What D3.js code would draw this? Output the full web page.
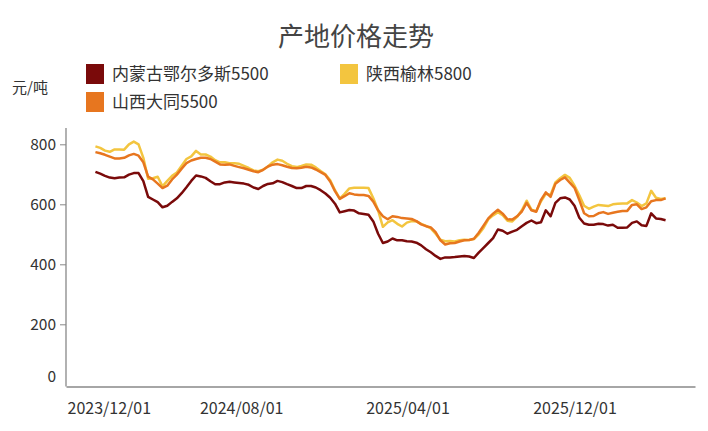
<!DOCTYPE html>
<html><head><meta charset="utf-8">
<script src="https://cdn.jsdelivr.net/npm/d3@7"></script>
<style>
html,body{margin:0;padding:0;background:#fff;}
svg{display:block;font-family:"Noto Sans CJK SC","Noto Sans",sans-serif;}
</style></head>
<body><svg id="chart" width="708" height="431"></svg>
<script>
const title = "产地价格走势";
const unit = "元/吨";
const seriesNames = ["内蒙古鄂尔多斯5500", "陕西榆林5800", "山西大同5500"];
const seriesColors = ["#7a0a0a", "#f3c53f", "#e7761f"];
const startDate = "2024-01-01"; // weekly observations
const xTickLabels = ["2023/12/01", "2024/08/01", "2025/04/01", "2025/12/01"];
const yTicks = [0, 200, 400, 600, 800];

const neimenggu = [708,702,695,689,687,689,690,699,704,704,677,625,616,607,590,595,608,620,637,657,
678,696,693,688,677,667,667,673,675,673,671,669,665,656,651,661,668,670,678,674,
667,661,654,654,661,661,656,647,636,622,602,573,577,581,579,570,568,565,543,502,
471,476,486,480,480,477,476,472,463,450,440,428,418,423,423,424,426,428,426,421,
439,455,471,487,516,512,502,509,515,527,538,546,537,540,580,560,605,620,623,616,
595,555,536,532,532,535,534,529,532,522,522,523,538,543,530,528,570,553,551,547];

const shaanxi = [793,788,779,775,783,783,782,800,809,800,755,685,687,692,660,678,695,706,729,751,
760,778,766,766,759,747,740,740,737,737,735,728,721,713,710,715,726,740,749,745,
735,727,724,728,733,732,723,711,700,680,647,619,635,653,655,655,655,654,620,580,
525,540,547,535,526,539,544,543,535,528,520,502,482,477,478,476,480,482,481,484,
500,521,550,563,574,564,545,543,558,580,612,582,577,610,635,631,673,687,698,688,
662,630,595,585,592,598,596,594,600,602,603,603,614,606,594,603,645,622,618,620];

const shanxi = [774,770,765,759,753,753,755,763,768,762,740,692,683,669,654,662,683,699,719,737,
746,751,755,755,751,742,733,732,733,728,724,720,715,710,707,715,726,732,734,730,
725,721,720,722,725,723,716,707,698,676,644,618,627,637,633,631,631,628,609,580,
560,550,560,558,554,553,551,544,533,527,523,507,480,466,470,471,476,480,481,485,
505,529,553,569,582,569,550,549,560,576,605,580,575,615,640,625,668,681,690,672,
655,614,570,560,561,570,574,568,572,575,578,578,598,600,584,590,610,614,614,620];

const parse = d3.timeParse("%Y-%m-%d");
const parseSlash = d3.timeParse("%Y/%m/%d");
const dates = d3.range(neimenggu.length).map(i => d3.timeDay.offset(parse(startDate), 7 * i));
const seriesValues = [neimenggu, shaanxi, shanxi];

const svg = d3.select("#chart");
const x = d3.scaleTime().domain([parse("2023-11-19"), parse("2026-05-26")]).range([66, 695]);
const y = d3.scaleLinear().domain([0, 800]).range([384.3, 144.3]);

// title
svg.append("text").attr("x", 356).attr("y", 46).attr("text-anchor", "middle")
  .attr("font-size", 26).attr("fill", "#444").text(title);

// unit
svg.append("text").attr("x", 12).attr("y", 93).attr("font-size", 15).attr("fill", "#333").text(unit);

// legend
const legendPos = [[86, 64], [340, 64], [86, 92]];
seriesNames.forEach((n, i) => {
  const g = svg.append("g").attr("transform", `translate(${legendPos[i][0]},${legendPos[i][1]})`);
  g.append("rect").attr("width", 18).attr("height", 20).attr("fill", seriesColors[i]);
  g.append("text").attr("x", 26).attr("y", 16).attr("font-size", 17).attr("fill", "#333").text(n);
});

// y axis
const yAxis = svg.append("g").attr("transform", "translate(66,0)")
  .call(d3.axisLeft(y).tickValues(yTicks).tickSize(6).tickPadding(4));
yAxis.select(".domain").remove();
yAxis.selectAll(".tick line").attr("stroke", "#888");
yAxis.selectAll(".tick text").attr("font-size", 15.5).attr("fill", "#333")
  .attr("font-family", "'Noto Sans CJK SC','Noto Sans',sans-serif");
yAxis.selectAll(".tick").filter(d => d === 0).select("line").remove();
yAxis.selectAll(".tick").filter(d => d === 0).select("text").attr("dy", "-0.15em");
svg.append("line").attr("x1", 66).attr("x2", 66).attr("y1", 128).attr("y2", 386.5)
  .attr("stroke", "#888").attr("stroke-width", 1.3);

// x axis
const xAxis = svg.append("g").attr("transform", "translate(0,386.5)")
  .call(d3.axisBottom(x).tickValues(xTickLabels.map(parseSlash)).tickFormat(d3.timeFormat("%Y/%m/%d"))
  .tickSize(0).tickPadding(16));
xAxis.select(".domain").attr("stroke", "#888").attr("stroke-width", 1.3);
xAxis.selectAll(".tick text").attr("font-size", 16).attr("fill", "#333")
  .attr("font-family", "'Noto Sans CJK SC','Noto Sans',sans-serif");
xAxis.selectAll(".tick").filter((d, i) => i === 0).select("text")
  .attr("text-anchor", "start").attr("x", 67 - x(parseSlash(xTickLabels[0])));

// lines
const line = d3.line().x((d, i) => x(dates[i])).y(d => y(d));
[0, 1, 2].forEach(i => {
  svg.append("path").datum(seriesValues[i]).attr("fill", "none")
    .attr("stroke", seriesColors[i]).attr("stroke-width", 2.5)
    .attr("stroke-linejoin", "round").attr("d", line);
});
</script></body></html>
